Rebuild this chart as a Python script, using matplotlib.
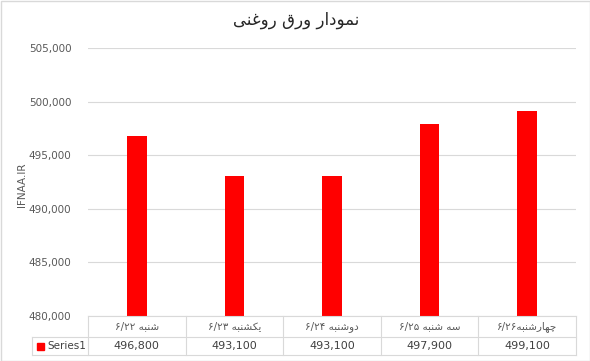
import matplotlib
matplotlib.use("Agg")
import matplotlib.pyplot as plt
from matplotlib.transforms import blended_transform_factory
from matplotlib.patches import Rectangle

# ---- data ----
title = "نمودار ورق روغنی"
categories = ["شنبه ۶/۲۲", "یکشنبه ۶/۲۳", "دوشنبه ۶/۲۴", "سه شنبه ۶/۲۵", "چهارشنبه۶/۲۶"]
values = [496800, 493100, 493100, 497900, 499100]
series_name = "Series1"
ylabel = "IFNAA.IR"

# ---- minimal arabic shaping (no reshaper lib available) ----
FORMS = {
    "ا": ("\uFE8D", "\uFE8E"), "د": ("\uFEA9", "\uFEAA"), "ر": ("\uFEAD", "\uFEAE"),
    "و": ("\uFEED", "\uFEEE"),
    "ن": ("\uFEE5", "\uFEE6", "\uFEE7", "\uFEE8"), "م": ("\uFEE1", "\uFEE2", "\uFEE3", "\uFEE4"),
    "ق": ("\uFED5", "\uFED6", "\uFED7", "\uFED8"), "غ": ("\uFECD", "\uFECE", "\uFECF", "\uFED0"),
    "ش": ("\uFEB5", "\uFEB6", "\uFEB7", "\uFEB8"), "ب": ("\uFE8F", "\uFE90", "\uFE91", "\uFE92"),
    "ه": ("\uFEE9", "\uFEEA", "\uFEEB", "\uFEEC"), "س": ("\uFEB1", "\uFEB2", "\uFEB3", "\uFEB4"),
    "ی": ("\uFBFC", "\uFBFD", "\uFBFE", "\uFBFF"), "ک": ("\uFB8E", "\uFB8F", "\uFB90", "\uFB91"),
    "چ": ("\uFB7A", "\uFB7B", "\uFB7C", "\uFB7D"),
}


def shape_word(s):
    out = []
    for i, c in enumerate(s):
        if c not in FORMS:
            out.append(c)
            continue
        prev = s[i - 1] if i > 0 else ""
        nxt = s[i + 1] if i + 1 < len(s) else ""
        join_prev = prev in FORMS and len(FORMS[prev]) == 4
        join_next = len(FORMS[c]) == 4 and nxt in FORMS
        f = FORMS[c]
        if join_prev and join_next:
            out.append(f[3])
        elif join_prev:
            out.append(f[1])
        elif join_next:
            out.append(f[2])
        else:
            out.append(f[0])
    return "".join(out)


def visual(s):
    # split into digit runs (LTR) and other runs, lay out right to left
    runs, cur, cur_digit = [], "", None
    for c in s:
        d = ("\u06F0" <= c <= "\u06F9") or c == "/"
        if cur and d != cur_digit:
            runs.append((cur, cur_digit))
            cur = ""
        cur += c
        cur_digit = d
    if cur:
        runs.append((cur, cur_digit))
    parts = []
    for text, d in reversed(runs):
        parts.append(text if d else shape_word(text)[::-1])
    return "".join(parts)


plt.rcParams["font.family"] = ["DejaVu Sans"]
grid_color = "#D9D9D9"

W, H = 590, 361
fig = plt.figure(figsize=(W / 100, H / 100), dpi=100)

# plot area in pixels
x0, x1 = 88, 576
y_top, y_bot = 48, 316
ax = fig.add_axes([x0 / W, 1 - y_bot / H, (x1 - x0) / W, (y_bot - y_top) / H])

x = list(range(len(categories)))
ax.bar(x, values, width=0.2, color="#FF0000")
ax.set_xlim(-0.5, len(categories) - 0.5)
ax.set_ylim(480000, 505000)
ax.set_yticks(range(480000, 505001, 5000))
ax.set_yticklabels([f"{v:,}" for v in range(480000, 505001, 5000)],
                   fontsize=7.5, color="#595959")
ax.set_xticks([])
ax.tick_params(axis="y", length=0, pad=12)
ax.yaxis.grid(True, color=grid_color, linewidth=0.8)
ax.set_axisbelow(True)
for sp in ax.spines.values():
    sp.set_visible(False)

fig.text(22 / W, 1 - 185 / H, ylabel, rotation=90, ha="center", va="center",
         fontsize=7.5, color="#595959")
fig.text(296 / W, 1 - 20 / H, visual(title), ha="center", va="center",
         fontsize=12, color="#262626")

# ---- data table under the axis ----
tr = blended_transform_factory(ax.transData, fig.transFigure)
r0, r1, r2 = 1 - 316 / H, 1 - 337 / H, 1 - 355 / H
lw = 0.8
fig.add_artist(plt.Line2D([x0 / W, x1 / W], [r0, r0], color=grid_color, lw=lw))
fig.add_artist(plt.Line2D([32 / W, x1 / W], [r1, r1], color=grid_color, lw=lw))
fig.add_artist(plt.Line2D([32 / W, x1 / W], [r2, r2], color=grid_color, lw=lw))
fig.add_artist(plt.Line2D([32 / W, 32 / W], [r1, r2], color=grid_color, lw=lw))
for b in [i - 0.5 for i in range(len(categories) + 1)]:
    fig.add_artist(plt.Line2D([b, b], [r0, r2], color=grid_color, lw=lw,
                              transform=tr))
for i, (c, v) in enumerate(zip(categories, values)):
    fig.text(i, (r0 + r1) / 2, visual(c), transform=tr, ha="center",
             va="center", fontsize=7.5, color="#595959")
    fig.text(i, (r1 + r2) / 2, f"{v:,}", transform=tr, ha="center",
             va="center", fontsize=8, color="#404040")
fig.add_artist(Rectangle((37 / W, (r1 + r2) / 2 - 3.5 / H), 7 / W, 7 / H,
                         transform=fig.transFigure, color="#FF0000"))
fig.text(47 / W, (r1 + r2) / 2, series_name, ha="left", va="center",
         fontsize=7.5, color="#404040")

# chart border
fig.add_artist(Rectangle((0.5 / W, 0.5 / H), (W - 1) / W, (H - 1) / H,
                         transform=fig.transFigure, fill=False,
                         edgecolor=grid_color, lw=1))

fig.savefig("out.png", dpi=100)
